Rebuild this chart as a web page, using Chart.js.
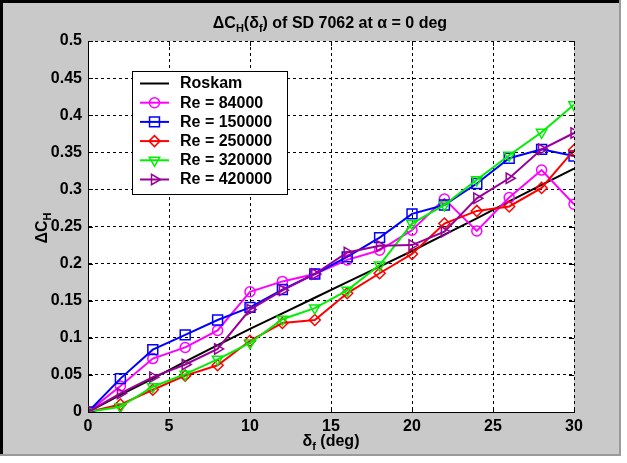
<!DOCTYPE html>
<html>
<head>
<meta charset="utf-8">
<script src="https://cdn.jsdelivr.net/npm/chart.js@4/dist/chart.umd.min.js"></script>
<style>
  html, body { margin: 0; padding: 0; background: #fff; }
  #wrap { width: 627px; height: 463px; }
</style>
</head>
<body>
<div id="wrap"><canvas id="chart" width="627" height="463"></canvas></div>
<script>
// flap deflection (deg)
const deltaF = [0, 2, 4, 6, 8, 10, 12, 14, 16, 18, 20, 22, 24, 26, 28, 30];

// delta C_H per series
const roskam   = [0, 0.023, 0.045, 0.068, 0.090, 0.112, 0.133, 0.154, 0.175, 0.196, 0.217, 0.239, 0.261, 0.284, 0.306, 0.328];
const re84000  = [0, 0.035, 0.072, 0.087, 0.110, 0.162, 0.176, 0.186, 0.205, 0.218, 0.245, 0.287, 0.244, 0.289, 0.326, 0.280];
const re150000 = [0, 0.045, 0.084, 0.104, 0.124, 0.141, 0.165, 0.186, 0.209, 0.235, 0.267, 0.279, 0.308, 0.342, 0.354, 0.345];
const re250000 = [0, 0.010, 0.030, 0.049, 0.063, 0.096, 0.120, 0.124, 0.160, 0.187, 0.213, 0.254, 0.271, 0.277, 0.302, 0.353];
const re320000 = [0, 0.007, 0.034, 0.051, 0.071, 0.093, 0.125, 0.140, 0.164, 0.198, 0.254, 0.279, 0.313, 0.346, 0.377, 0.414];
const re420000 = [0, 0.025, 0.047, 0.064, 0.085, 0.138, 0.164, 0.186, 0.215, 0.224, 0.225, 0.243, 0.288, 0.315, 0.354, 0.376];

const seriesNames = ['Roskam', 'Re = 84000', 'Re = 150000', 'Re = 250000', 'Re = 320000', 'Re = 420000'];

// tick labels
const xTickValues = [0, 5, 10, 15, 20, 25, 30];
const xTickLabels = ['0', '5', '10', '15', '20', '25', '30'];
const yTickValues = [0, 0.05, 0.1, 0.15, 0.2, 0.25, 0.3, 0.35, 0.4, 0.45, 0.5];
const yTickLabels = ['0', '0.05', '0.1', '0.15', '0.2', '0.25', '0.3', '0.35', '0.4', '0.45', '0.5'];

const FONT = "'Liberation Sans', Arial, sans-serif";
const FS = 16;

const toPts = vals => deltaF.map((x, i) => ({ x: x, y: vals[i] }));

// style per series (colour, marker)
const styles = [
    { color: '#000000', point: false,      radius: 0, rotation: 0 },
    { color: '#ff00ff', point: 'circle',   radius: 5, rotation: 0 },
    { color: '#0000ff', point: 'rect',     radius: 7, rotation: 0 },
    { color: '#ff0000', point: 'rectRot',  radius: 5.5, rotation: 0 },
    { color: '#00ee00', point: 'triangle', radius: 6, rotation: 180 },
    { color: '#990099', point: 'triangle', radius: 6, rotation: 90 }
];

const allSeries = [roskam, re84000, re150000, re250000, re320000, re420000];

const datasets = allSeries.map((vals, i) => ({
    label: seriesNames[i],
    data: toPts(vals),
    borderColor: styles[i].color,
    backgroundColor: 'rgba(0,0,0,0)',
    borderWidth: 2,
    pointStyle: styles[i].point,
    pointRadius: styles[i].radius,
    pointRotation: styles[i].rotation,
    pointBorderWidth: 1.5,
    pointBorderColor: styles[i].color,
    pointBackgroundColor: 'rgba(0,0,0,0)',
    tension: 0,
    order: allSeries.length - i
}));

// draw a piece of text with subscripts: parts = [[text, isSub], ...]
function drawRich(ctx, parts, x, y, size, align) {
    const subSize = Math.round(size * 0.7);
    let total = 0;
    parts.forEach(p => {
        ctx.font = 'bold ' + (p[1] ? subSize : size) + 'px ' + FONT;
        total += ctx.measureText(p[0]).width;
    });
    let cx = align === 'center' ? x - total / 2 : x;
    ctx.textAlign = 'left';
    ctx.textBaseline = 'alphabetic';
    parts.forEach(p => {
        ctx.font = 'bold ' + (p[1] ? subSize : size) + 'px ' + FONT;
        ctx.fillText(p[0], cx, p[1] ? y + 4 : y);
        cx += ctx.measureText(p[0]).width;
    });
}

const framePlugin = {
    id: 'frame',
    beforeDraw(chart) {
        const ctx = chart.ctx;
        const a = chart.chartArea;
        ctx.save();
        ctx.fillStyle = '#ffffff';
        ctx.fillRect(0, 0, chart.width, chart.height);
        ctx.fillStyle = '#c9c9c9';
        ctx.fillRect(0, 0, 621, 456);
        ctx.fillStyle = '#000';
        ctx.fillRect(0, 0, 621, 3);
        ctx.fillRect(0, 0, 3, 456);
        ctx.fillStyle = '#9a9a9a';
        ctx.fillRect(619, 0, 2, 456);
        ctx.fillRect(0, 454, 621, 2);
        ctx.fillStyle = '#ffffff';
        ctx.fillRect(a.left, a.top, a.right - a.left, a.bottom - a.top);
        ctx.restore();
    },
    afterDraw(chart) {
        const ctx = chart.ctx;
        const a = chart.chartArea;
        const xs = chart.scales.x, ys = chart.scales.y;
        ctx.save();
        ctx.fillStyle = '#000';

        // title
        drawRich(ctx, [['\u0394C', false], ['H', true], ['(\u03b4', false], ['f', true], [') of SD 7062 at \u03b1 = 0 deg', false]],
            330, 28, FS, 'center');

        // x label
        drawRich(ctx, [['\u03b4', false], ['f', true], [' (deg)', false]], 331, 446, FS, 'center');

        // y label
        ctx.save();
        ctx.translate(47, 228);
        ctx.rotate(-Math.PI / 2);
        drawRich(ctx, [['\u0394C', false], ['H', true]], 0, 0, FS, 'center');
        ctx.restore();

        // inner tick marks on all sides
        ctx.strokeStyle = '#000';
        ctx.lineWidth = 1;
        ctx.beginPath();
        xTickValues.forEach(v => {
            const px = Math.round(xs.getPixelForValue(v)) + 0.5;
            ctx.moveTo(px, a.bottom); ctx.lineTo(px, a.bottom - 5);
            ctx.moveTo(px, a.top); ctx.lineTo(px, a.top + 5);
        });
        yTickValues.forEach(v => {
            const py = Math.round(ys.getPixelForValue(v)) + 0.5;
            ctx.moveTo(a.left, py); ctx.lineTo(a.left + 5, py);
            ctx.moveTo(a.right, py); ctx.lineTo(a.right - 5, py);
        });
        ctx.stroke();

        // legend box
        const lx = 132, ly = 71, lw = 155, lh = 123;
        ctx.fillStyle = '#fff';
        ctx.fillRect(lx, ly, lw, lh);
        ctx.strokeStyle = '#000';
        ctx.lineWidth = 1;
        ctx.strokeRect(lx + 0.5, ly + 0.5, lw, lh);
        chart.data.datasets.forEach((ds, i) => {
            const y = 83.5 + i * 19.2;
            ctx.strokeStyle = ds.borderColor;
            ctx.lineWidth = 2;
            ctx.beginPath();
            ctx.moveTo(140, y); ctx.lineTo(169, y);
            ctx.stroke();
            if (ds.pointStyle) {
                ctx.fillStyle = 'rgba(0,0,0,0)';
                ctx.lineWidth = 1.5;
                Chart.helpers.drawPoint(ctx, {
                    pointStyle: ds.pointStyle,
                    rotation: ds.pointRotation,
                    radius: ds.pointRadius,
                    borderWidth: 1.5
                }, 154.5, y);
            }
            ctx.fillStyle = '#000';
            ctx.font = 'bold ' + FS + 'px ' + FONT;
            ctx.textAlign = 'left';
            ctx.textBaseline = 'middle';
            ctx.fillText(ds.label, 180, y + 0.5);
        });
        ctx.restore();
    }
};

new Chart(document.getElementById('chart'), {
    type: 'line',
    data: { datasets: datasets },
    options: {
        responsive: false,
        animation: false,
        events: [],
        layout: { padding: { left: 0, top: 41, right: 53, bottom: 0 } },
        plugins: {
            legend: { display: false },
            title: { display: false },
            tooltip: { enabled: false }
        },
        scales: {
            x: {
                type: 'linear',
                min: 0, max: 30,
                afterBuildTicks: s => { s.ticks = xTickValues.map(v => ({ value: v })); },
                afterFit: s => { s.height = 51; },
                grid: { color: '#000', lineWidth: 1, drawTicks: false },
                border: { display: true, color: '#000', width: 1, dash: [3, 3] },
                ticks: {
                    color: '#000',
                    padding: 5,
                    maxRotation: 0,
                    font: { family: FONT, size: FS, weight: 'bold' },
                    callback: (v, i) => xTickLabels[i]
                }
            },
            y: {
                type: 'linear',
                min: 0, max: 0.5,
                afterBuildTicks: s => { s.ticks = yTickValues.map(v => ({ value: v })); },
                afterFit: s => { s.width = 88; },
                grid: { color: '#000', lineWidth: 1, drawTicks: false },
                border: { display: true, color: '#000', width: 1, dash: [3, 3] },
                ticks: {
                    color: '#000',
                    padding: 6,
                    font: { family: FONT, size: FS, weight: 'bold' },
                    callback: (v, i) => yTickLabels[i]
                }
            }
        }
    },
    plugins: [framePlugin]
});
</script>
</body>
</html>
